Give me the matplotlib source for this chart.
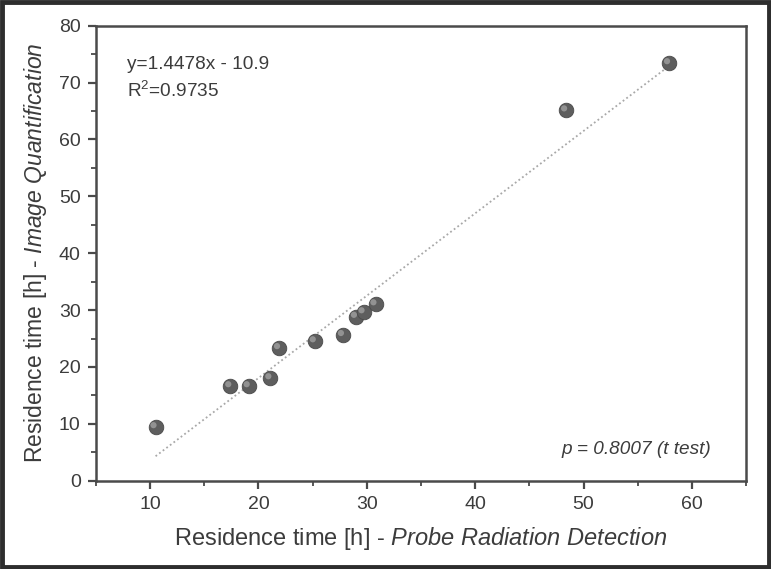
import matplotlib
matplotlib.use("Agg")
import matplotlib.pyplot as plt
import matplotlib.transforms as mtransforms
from matplotlib.patches import Rectangle
from matplotlib.ticker import MultipleLocator
import numpy as np

plt.rcParams['font.family'] = ['Liberation Sans', 'DejaVu Sans']
plt.rcParams['mathtext.fontset'] = 'custom'
plt.rcParams['mathtext.rm'] = 'Liberation Sans'
plt.rcParams['mathtext.it'] = 'Liberation Sans:italic'

# Data
probe_detection = [10.5, 17.4, 19.1, 21.1, 21.9, 25.2, 27.8, 29.0, 29.7, 30.8, 48.4, 57.9]
image_quant = [9.4, 16.6, 16.6, 18.0, 23.3, 24.5, 25.6, 28.8, 29.6, 31.0, 65.1, 73.4]
slope = 1.4478
intercept = -10.9
r2 = 0.9735
p_value = 0.8007

text_col = '#3c3c3c'
spine_col = '#4a4a4a'

fig = plt.figure(figsize=(7.71, 5.69), dpi=100)
ax = fig.add_axes([0.1245, 0.1552, 0.8431, 0.7996])

# fit line
xs = np.array([min(probe_detection), max(probe_detection)])
ax.plot(xs, slope * xs + intercept, linestyle=(0, (1, 1.5)), color='#a8a8a8', lw=1.3, zorder=2)

# sphere-like markers
ax.scatter(probe_detection, image_quant, s=110, color='#5e5e5e', edgecolors='#4a4a4a',
           linewidths=0.6, zorder=3)
hl = mtransforms.offset_copy(ax.transData, fig=fig, x=-1.5, y=1.5, units='points')
ax.scatter(probe_detection, image_quant, s=20, color='#a0a0a0', edgecolors='none',
           transform=hl, zorder=4, alpha=0.8)

ax.set_xlim(5, 65)
ax.set_ylim(0, 80)
ax.xaxis.set_major_locator(MultipleLocator(10))
ax.xaxis.set_minor_locator(MultipleLocator(5))
ax.yaxis.set_major_locator(MultipleLocator(10))
ax.yaxis.set_minor_locator(MultipleLocator(5))
ax.set_xticks([10, 20, 30, 40, 50, 60])

ax.tick_params(which='major', direction='out', length=6, width=1.6, color=spine_col,
               labelsize=14, labelcolor=text_col, pad=5)
ax.tick_params(which='minor', direction='out', length=3.5, width=1.3, color=spine_col)
ax.tick_params(top=False, right=False, which='both')
for sp in ax.spines.values():
    sp.set_color(spine_col)
    sp.set_linewidth(1.8)

ax.set_xlabel(r'Residence time [h] - $\it{Probe\ Radiation\ Detection}$', fontsize=17,
              color=text_col, labelpad=9)
ax.set_ylabel(r'Residence time [h] - $\it{Image\ Quantification}$', fontsize=16.5,
              color=text_col, labelpad=7)

ax.text(7.9, 73.1, 'y=1.4478x - 10.9', fontsize=13.7, color=text_col, va='center', ha='left')
ax.text(7.9, 68.6, 'R$^2$=%.4f' % r2, fontsize=13.7, color=text_col, va='center', ha='left')
ax.text(61.8, 5.4, 'p = %.4f (t test)' % p_value, fontsize=13.7, color=text_col,
        style='italic', va='center', ha='right')

fig.patches.append(Rectangle((0.002, 0.003), 0.996, 0.994, transform=fig.transFigure,
                             fill=False, edgecolor='#2e2e2e', linewidth=3.5))

fig.savefig('out.png', dpi=100)
